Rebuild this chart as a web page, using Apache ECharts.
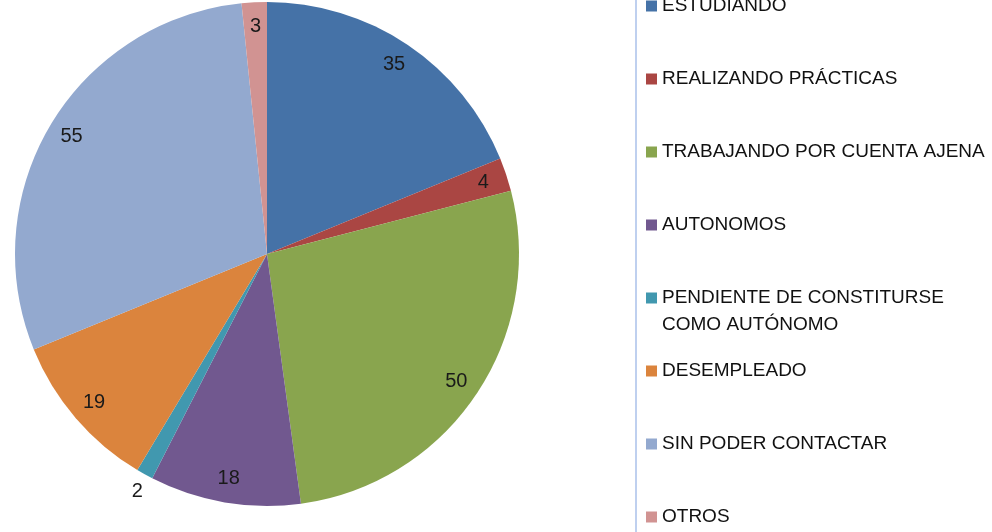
<!DOCTYPE html>
<html>
<head>
<meta charset="utf-8">
<script src="https://cdn.jsdelivr.net/npm/echarts@6/dist/echarts.min.js"></script>
<style>
  html, body { margin: 0; padding: 0; background: #fff; }
  #chart { width: 992px; height: 532px; }
</style>
</head>
<body>
<div id="chart"></div>
<script>
const categories = [
  'ESTUDIANDO',
  'REALIZANDO PRÁCTICAS',
  'TRABAJANDO POR CUENTA AJENA',
  'AUTONOMOS',
  'PENDIENTE DE CONSTITURSE\nCOMO AUTÓNOMO',
  'DESEMPLEADO',
  'SIN PODER CONTACTAR',
  'OTROS'
]
const values = [35, 4, 50, 18, 2, 19, 55, 3]
const colors = ['#4572a7', '#aa4643', '#89a54e', '#71588f', '#4198af', '#db843d', '#93a9cf', '#d19392']
// small slices whose label sits outside the pie
const outsideLabels = ['PENDIENTE DE CONSTITURSE\nCOMO AUTÓNOMO']

const font = '"Liberation Sans", Arial, sans-serif'
const chart = echarts.init(document.getElementById('chart'))

const center = [267, 254]
const radius = 252

const pieData = categories.map((name, i) => ({
  name,
  value: values[i],
  itemStyle: { color: colors[i] },
}))

const labelData = categories.map((name, i) => {
  const item = { name, value: values[i] }
  if (outsideLabels.includes(name)) {
    item.label = { position: 'outside', distance: 0, offset: [13, 0] }
    item.labelLine = { show: false, length: 20, length2: 0 }
  }
  return item
})

// one legend component per item so the rows line up with the picture
const legendTop0 = 6
const legendStep = 73
const legends = categories.map((name, i) => ({
  data: [name],
  orient: 'vertical',
  left: 646,
  top: legendTop0 + legendStep * i - 10,
  padding: 0,
  icon: 'rect',
  itemWidth: 11,
  itemHeight: 11,
  selectedMode: false,
  formatter: (n) => n.split('\n')[0],
  textStyle: { fontFamily: font, fontSize: 19, color: '#111', lineHeight: 20 },
}))

// extra text lines of multi-line legend entries
const extraLines = []
categories.forEach((name, i) => {
  name.split('\n').slice(1).forEach((line, j) => {
    extraLines.push({
      type: 'text',
      left: 662,
      top: legendTop0 + legendStep * i - 10 + 27 * (j + 1),
      style: { text: line, font: '19px ' + font, fill: '#111' },
    })
  })
})

const option = {
  animation: false,
  legend: legends,
  graphic: [
    {
      type: 'line',
      shape: { x1: 636, y1: 0, x2: 636, y2: 532 },
      style: { stroke: '#bfd0ef', lineWidth: 2 },
    },
    ...extraLines,
  ],
  series: [
    {
      type: 'pie',
      center,
      radius: [0, radius],
      startAngle: 90,
      clockwise: true,
      avoidLabelOverlap: false,
      silent: true,
      label: { show: false },
      labelLine: { show: false },
      itemStyle: { borderWidth: 0 },
      data: pieData,
    },
    {
      // transparent ring used only to put the value labels near the rim
      type: 'pie',
      center,
      radius: [radius - 54, radius],
      startAngle: 90,
      clockwise: true,
      avoidLabelOverlap: false,
      silent: true,
      itemStyle: { color: 'rgba(0,0,0,0)', borderWidth: 0 },
      label: {
        show: true,
        position: 'inside',
        formatter: '{c}',
        fontFamily: font,
        fontSize: 20,
        color: '#1a1a1a',
      },
      labelLine: { show: false },
      data: labelData,
    },
  ],
}

chart.setOption(option)
</script>
</body>
</html>
